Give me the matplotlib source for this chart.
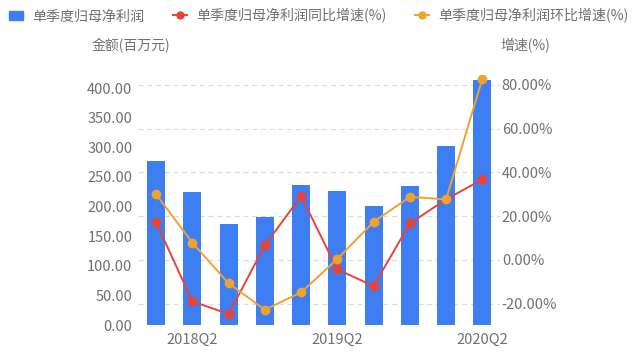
import matplotlib
matplotlib.use("Agg")
import matplotlib.pyplot as plt
import numpy as np
from matplotlib.lines import Line2D
from matplotlib.patches import Patch

plt.rcParams["font.family"] = ["Noto Sans CJK SC", "DejaVu Sans"]

quarters = ["2018Q1", "2018Q2", "2018Q3", "2018Q4", "2019Q1",
            "2019Q2", "2019Q3", "2019Q4", "2020Q1", "2020Q2"]
profit = [276.5, 224.0, 170.0, 182.0, 236.0, 226.0, 200.5, 235.0, 302.0, 414.0]
yoy = [17.2, -18.9, -24.7, 6.7, 29.2, -4.3, -11.9, 16.7, 27.7, 36.8]
qoq = [30.0, 7.9, -10.7, -22.7, -14.8, 0.5, 17.4, 28.8, 27.7, 82.8]
shown_labels = {"2018Q2", "2019Q2", "2020Q2"}

BLUE = "#3d7ef2"
RED = "#e8433b"
ORANGE = "#eea331"
GRAY = "#707070"
GRID = "#dcdcdc"

fig = plt.figure(figsize=(6.4, 3.57), dpi=100)
ax = fig.add_axes([0.2156, 0.0896, 0.5664, 0.7003])
ax2 = ax.twinx()

x = np.arange(len(quarters))
ax.bar(x, profit, width=0.5, color=BLUE, zorder=2)
ax.set_xlim(-0.5, len(quarters) - 0.5)
ax.set_ylim(0, 422)
ax.set_yticks(np.arange(0, 401, 50))
ax.set_yticklabels([f"{v:.2f}" for v in np.arange(0, 401, 50)])

ax2.set_ylim(-29.7, 84.5)
pct_ticks = np.arange(-20, 81, 20)
ax2.set_yticks(pct_ticks)
ax2.set_yticklabels([f"{v:.2f}%" for v in pct_ticks])

# grid follows the right axis but sits behind the bars
l0, l1 = ax.get_ylim()
r0, r1 = ax2.get_ylim()
for p in pct_ticks:
    yl = (p - r0) / (r1 - r0) * (l1 - l0) + l0
    ax.axhline(yl, color=GRID, lw=0.9, ls=(0, (4, 3)), zorder=1)

ax2.plot(x, yoy, color=RED, lw=1.4, marker="o", ms=6, zorder=3)
ax2.plot(x, qoq, color=ORANGE, lw=1.4, marker="o", ms=6, zorder=3)

ax.set_xticks(x)
ax.set_xticklabels([q if q in shown_labels else "" for q in quarters])

for a in (ax, ax2):
    for s in a.spines.values():
        s.set_visible(False)
    a.tick_params(length=0, labelsize=10.5, colors=GRAY)
ax.tick_params(axis="y", pad=4)
ax.tick_params(axis="x", pad=6)
ax2.tick_params(axis="y", pad=1)

fig.text(92 / 640, 1 - 46 / 357, "金额(百万元)", ha="left", va="center",
         fontsize=10, color=GRAY)
fig.text(500 / 640, 1 - 46 / 357, "增速(%)", ha="left", va="center",
         fontsize=10, color=GRAY)

handles = [
    Patch(color=BLUE),
    Line2D([0], [0], color=RED, lw=1.4, marker="o", ms=5),
    Line2D([0], [0], color=ORANGE, lw=1.4, marker="o", ms=5),
]
labels = ["单季度归母净利润", "单季度归母净利润同比增速(%)", "单季度归母净利润环比增速(%)"]
fig.legend(handles, labels, loc="upper left", bbox_to_anchor=(-0.006, 1.012), ncol=3,
           frameon=False, fontsize=10.1, handlelength=1.0, handleheight=0.7,
           handletextpad=0.7, columnspacing=2.0, labelcolor=GRAY)

fig.savefig("out.png", dpi=100)
